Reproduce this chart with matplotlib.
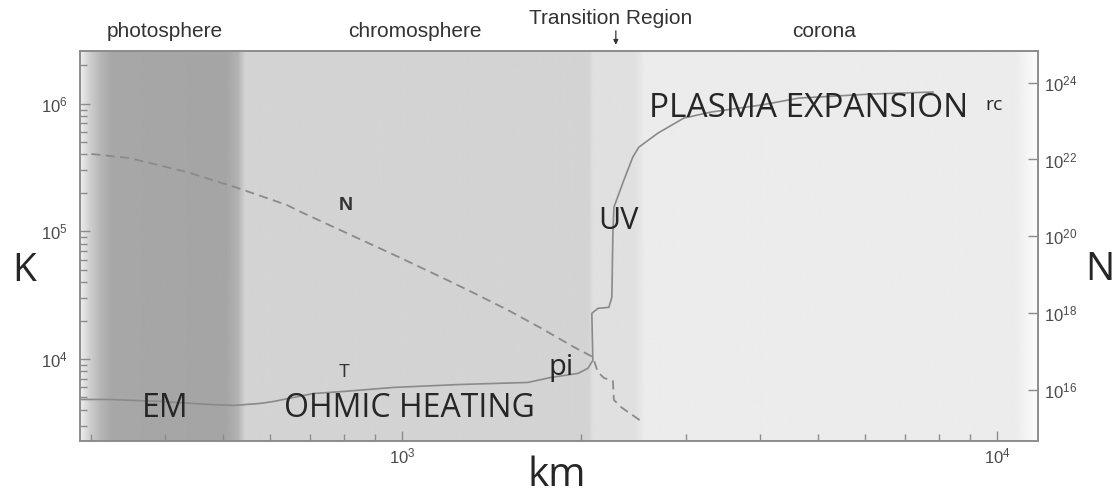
import numpy as np
import matplotlib
matplotlib.use("Agg")
import matplotlib.pyplot as plt
from matplotlib.ticker import LogLocator, NullFormatter, NullLocator, LogFormatterSciNotation

plt.rcParams['font.family'] = ['Liberation Sans', 'DejaVu Sans']

# temperature curve T (left axis, K) vs height (km)
dist_T = [289, 324, 394, 478, 522, 579, 609, 658, 711, 799, 969, 1257, 1628, 1780,
          1976, 2054, 2094, 2086, 2135, 2228, 2254, 2263, 2272, 2361, 2444, 2502,
          2694, 2978, 3306, 4012, 4648, 6164, 7805]
temp_K = [4820, 4820, 4650, 4400, 4330, 4490, 4650, 5000, 5370, 5570, 5990, 6320,
          6550, 7170, 7710, 8440, 9750, 22800, 24900, 25400, 30400, 96600, 154600,
          251600, 381200, 456600, 588000, 771300, 859300, 975000, 1106000, 1190000,
          1233000]

# density curve N (right axis)
dist_N = [301, 349, 435, 524, 641, 677, 821, 996, 1163, 1321, 1507, 1712, 1945,
          2094, 2135, 2186, 2263, 2272, 2334, 2551]
dens_N = [1.39e22, 1.09e22, 4.73e21, 1.92e21, 6.53e20, 4.29e20, 1.08e20, 2.72e19,
          8.71e18, 3.34e18, 1.20e18, 4.09e17, 1.31e17, 7.19e16, 2.92e16, 2.04e16,
          1.71e16, 5.46e15, 3.59e15, 1.37e15]

# background shading stops (km, gray level)
shade_km = [288, 300, 312, 325, 505, 530, 545, 2060, 2090, 2450, 2560, 10700, 11720]
shade_gray = [0.93, 0.80, 0.71, 0.655, 0.645, 0.70, 0.83, 0.83, 0.875, 0.875, 0.925, 0.925, 0.99]

zones = ["photosphere", "chromosphere", "corona"]
zone_km = [400, 1051, 5118]

x_lim = (288, 11720)
k_lim = (2300, 2.6e6)
n_lim = (4.8e14, 6.8e24)

fig = plt.figure(figsize=(11.17, 4.95), dpi=100)
ax = fig.add_axes([0.0716, 0.1101, 0.8577, 0.7875])
ax.set_xscale('log')
ax.set_yscale('log')
ax.set_xlim(*x_lim)
ax.set_ylim(*k_lim)

# shaded layers
grid = np.linspace(np.log10(x_lim[0]), np.log10(x_lim[1]), 1200)
prof = np.interp(grid, np.log10(shade_km), shade_gray)
ax.imshow(prof[None, :], cmap='gray', vmin=0, vmax=1, aspect='auto',
          extent=(0, 1, 0, 1), transform=ax.transAxes, zorder=0)

ax.plot(dist_T, temp_K, color='#8a8a8a', lw=1.2, zorder=3)

ax2 = ax.twinx()
ax2.set_yscale('log')
ax2.set_ylim(*n_lim)
ax2.plot(dist_N, dens_N, color='#8a8a8a', lw=1.3, ls=(0, (5, 3)), zorder=3)

gray = '#8c8c8c'
for a in (ax, ax2):
    for s in a.spines.values():
        s.set_color(gray)
        s.set_linewidth(1.2)

ax.xaxis.set_major_locator(LogLocator(base=10))
ax.xaxis.set_minor_locator(LogLocator(base=10, subs=np.arange(2, 10)))
ax.xaxis.set_minor_formatter(NullFormatter())
ax.yaxis.set_major_locator(LogLocator(base=10))
ax.yaxis.set_minor_locator(LogLocator(base=10, subs=np.arange(2, 10)))
ax.yaxis.set_minor_formatter(NullFormatter())
ax.tick_params(which='both', direction='in', color=gray, labelcolor='#4a4a4a',
               labelsize=12, top=False, right=False)
ax.tick_params(axis='y', which='major', length=7, width=1, pad=9)
ax.tick_params(axis='y', which='minor', length=5, width=1)
ax.tick_params(axis='x', which='major', length=7, width=1, pad=4)
ax.tick_params(axis='x', which='minor', length=5, width=1)

ax2.set_yticks([1e16, 1e18, 1e20, 1e22, 1e24])
ax2.yaxis.set_major_formatter(LogFormatterSciNotation())
ax2.yaxis.set_minor_locator(NullLocator())
ax2.tick_params(axis='y', direction='in', length=7, width=1, color=gray,
                labelcolor='#4a4a4a', labelsize=12, pad=4)

# region labels above the plot
xt = ax.get_xaxis_transform()
for name, km in zip(zones, zone_km):
    ax.text(km, 1.048, name, transform=xt, ha='center', va='center',
            fontsize=15, color='#333333')
ax.text(2245, 1.083, "Transition Region", transform=xt, ha='center', va='center',
        fontsize=15, color='#333333')
ax.annotate('', xy=(2289, 1.008), xytext=(2289, 1.058), xycoords=xt, textcoords=xt,
            arrowprops=dict(arrowstyle='-|>', color='#333333', lw=0.9, mutation_scale=7))

# annotations inside the plot
big = dict(family=['Open Sans', 'DejaVu Sans'], color='#262626', ha='center', va='center', zorder=5)
ax.text(4831, 9.24e5, "PLASMA EXPANSION", fontsize=24, **big)
ax.text(9888, 9.75e5, "rc", fontsize=14, **big)
ax.text(2316, 1.2e5, "UV", fontsize=22, **big)
ax.text(1850, 8600, "pi", fontsize=21, **big)
ax.text(400, 4100, "EM", fontsize=23, **big)
ax.text(1031, 4100, "OHMIC HEATING", fontsize=23, **big)
ax.text(805, 1.6e5, "N", fontsize=14, fontweight='bold', color='#333333',
        ha='center', va='center', zorder=5)
ax.text(799, 7870, "T", fontsize=13, color='#333333', ha='center', va='center', zorder=5)

# axis titles
lab = dict(family=['Open Sans', 'DejaVu Sans'], color='#262626', ha='center', va='center')
fig.text(0.0215, 0.4525, "K", fontsize=28, **lab)
fig.text(0.9848, 0.4545, "N", fontsize=28, **lab)
fig.text(0.4987, 0.0384, "km", fontsize=29, **lab)

fig.savefig("out.png", dpi=100, facecolor='white')
